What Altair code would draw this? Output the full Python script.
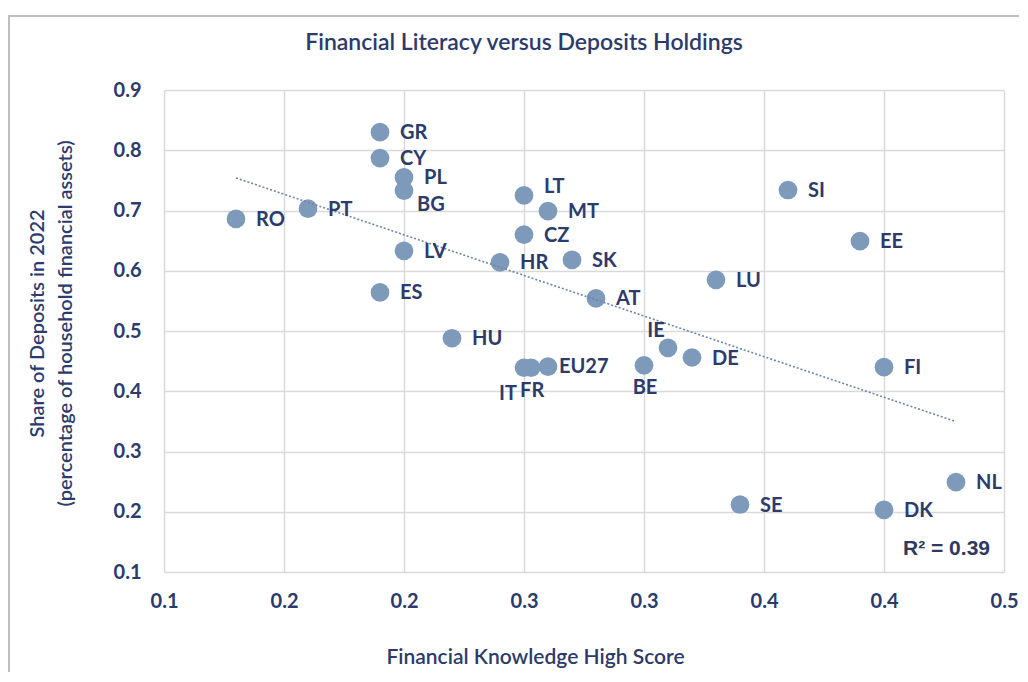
import altair as alt
import pandas as pd

# ---- data ----
countries = ["RO", "PT", "GR", "CY", "PL", "BG", "LV", "ES", "HU", "HR",
             "LT", "CZ", "IT", "FR", "EU27", "MT", "SK", "AT", "BE", "IE",
             "DE", "LU", "SE", "SI", "EE", "FI", "DK", "NL"]
knowledge = [0.13, 0.16, 0.19, 0.19, 0.20, 0.20, 0.20, 0.19, 0.22, 0.24,
             0.25, 0.25, 0.25, 0.253, 0.26, 0.26, 0.27, 0.28, 0.30, 0.31,
             0.32, 0.33, 0.34, 0.36, 0.39, 0.40, 0.40, 0.43]
deposits = [0.686, 0.703, 0.830, 0.787, 0.755, 0.733, 0.633, 0.564, 0.488, 0.614,
            0.725, 0.660, 0.439, 0.439, 0.441, 0.699, 0.618, 0.554, 0.443, 0.472,
            0.456, 0.585, 0.212, 0.734, 0.649, 0.440, 0.203, 0.249]

# where each country label sits relative to its dot (default: right)
label_placement = {"BG": "below-right", "LT": "above-right", "EU27": "near-right",
                   "IT": "below-left", "FR": "below", "BE": "below", "IE": "above-left"}

x_ticks = [0.1, 0.15, 0.2, 0.25, 0.3, 0.35, 0.4, 0.45]
x_tick_labels = ["0.1", "0.2", "0.2", "0.3", "0.3", "0.4", "0.4", "0.5"]
y_ticks = [0.1, 0.2, 0.3, 0.4, 0.5, 0.6, 0.7, 0.8, 0.9]

title_text = "Financial Literacy versus Deposits Holdings"
x_title = "Financial Knowledge High Score"
y_title = ["Share of Deposits in 2022", "(percentage of household financial assets)"]
r2_text = "R² = 0.39"

# ---- styling ----
NAVY = "#2c3b6b"
DOT = "#7e9aba"
FONT = "Lato"

df = pd.DataFrame({"country": countries, "knowledge": knowledge, "deposits": deposits})
df["placement"] = [label_placement.get(c, "right") for c in countries]

label_expr = "[" + ",".join("'%s'" % l for l in x_tick_labels) + "][round((datum.value - 0.1) / 0.05)]"

x_enc = alt.X("knowledge:Q",
              scale=alt.Scale(domain=[0.1, 0.45], nice=False, zero=False),
              axis=alt.Axis(values=x_ticks, labelExpr=label_expr, title=x_title,
                            labelPadding=19, titlePadding=35, titleX=371,
                            titleFontSize=21, labelFlush=False, labelOverlap=False))
y_enc = alt.Y("deposits:Q",
              scale=alt.Scale(domain=[0.1, 0.9], nice=False, zero=False),
              axis=alt.Axis(values=y_ticks, format=".1f", title=y_title,
                            labelPadding=23, titlePadding=38, titleLineHeight=28,
                            titleFontSize=20, titleY=233, labelFlush=False,
                            labelOverlap=False))

base = alt.Chart(df)

frame = alt.Chart(pd.DataFrame({"k": [0]})).mark_rect(
    fill="transparent", stroke="#bfbfbf", strokeWidth=2
).encode(x=alt.value(-155), x2=alt.value(950), y=alt.value(-74), y2=alt.value(700))

title = alt.Chart(pd.DataFrame({"t": [title_text]})).mark_text(
    font=FONT, fontSize=23, fontWeight=600, color=NAVY,
    align="center", baseline="middle"
).encode(x=alt.value(360), y=alt.value(-47), text="t:N")

points = base.mark_circle(size=350, color=DOT, opacity=1).encode(x=x_enc, y=y_enc)

trend = base.transform_regression("knowledge", "deposits").mark_line(
    color="#6d86a3", strokeWidth=1.6, strokeDash=[2, 2]
).encode(x=x_enc, y=y_enc)

offsets = {
    "right": (20, 1, "left"),
    "below-right": (13, 14, "left"),
    "above-right": (20, -8, "left"),
    "near-right": (11, 0, "left"),
    "below-left": (-16, 26, "center"),
    "below": (1, 23, "center"),
    "above-left": (-12, -17, "center"),
}
label_layers = []
for name, (dx, dy, align) in offsets.items():
    label_layers.append(
        base.transform_filter(alt.datum.placement == name).mark_text(
            font=FONT, fontSize=20, fontWeight="bold", color=NAVY,
            align=align, baseline="middle", dx=dx, dy=dy
        ).encode(x=x_enc, y=y_enc, text="country:N")
    )

r2 = alt.Chart(pd.DataFrame({"t": [r2_text]})).mark_text(
    font="Liberation Sans", fontSize=21, fontWeight="bold", color="#2e3a5e",
    align="right", baseline="middle"
).encode(x=alt.value(826), y=alt.value(459), text="t:N")

chart = alt.layer(frame, title, points, trend, *label_layers, r2).properties(
    width=840, height=482,
    autosize=alt.AutoSizeParams(type="none"),
    padding={"left": 156, "top": 82, "right": 15, "bottom": 100},
).configure_view(stroke=None).configure_axis(
    labelFont=FONT, labelFontSize=20, labelFontWeight="bold", labelColor=NAVY,
    titleFont=FONT, titleFontSize=20, titleFontWeight=600, titleColor=NAVY,
    gridColor="#d9d9d9", gridWidth=1.5, domain=False, ticks=False, tickSize=0,
)

chart.save("out.html", embed_options={"renderer": "svg", "actions": False})
